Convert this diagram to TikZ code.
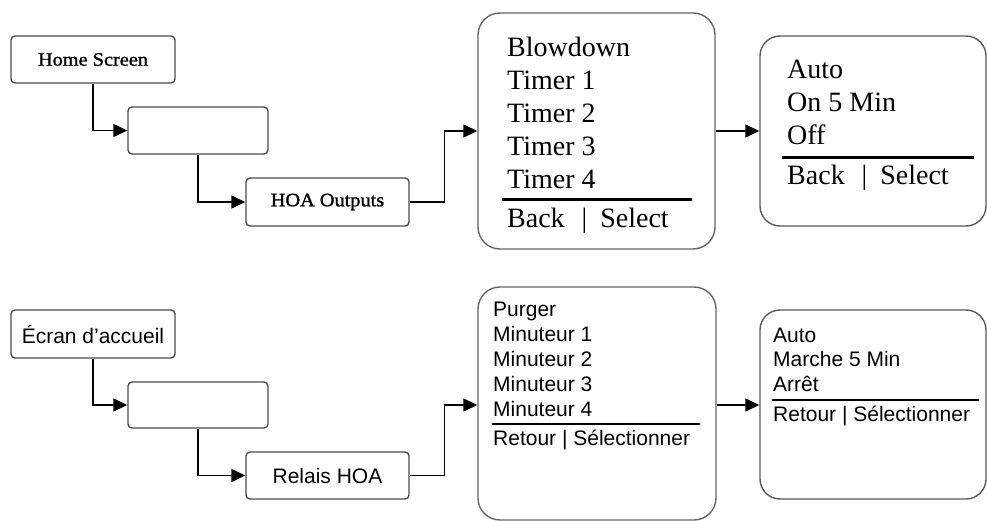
\documentclass[tikz,border=0pt]{standalone}
\usepackage{fontspec}
\setmainfont{Liberation Serif}
\newfontfamily\arialf{Liberation Sans}
\newfontfamily\wideserif[FakeStretch=1.07,FakeBold=1.2]{Liberation Serif}
\usetikzlibrary{arrows.meta}
\begin{document}
\begin{tikzpicture}[x=1pt,y=-1pt,
  smallbox/.style={draw=black!70, line width=1.4pt, rounded corners=4pt, inner sep=0pt, minimum width=164pt, minimum height=47pt},
  emptybox/.style={smallbox, minimum width=140pt},
  bigbox/.style={draw=black!60, line width=1.4pt, rounded corners=22pt, inner sep=0pt},
  conn/.style={line width=1.4pt, -{Triangle[length=14pt,width=13pt]}},
  ser/.style={font=\fontsize{28}{33}\selectfont, inner sep=0pt, anchor=base west},
  sans/.style={font=\arialf\fontsize{21}{25}\selectfont, inner sep=0pt, anchor=base west},
  smallser/.style={font=\wideserif\fontsize{19}{20}\selectfont},
  smallsans/.style={font=\arialf\fontsize{21}{24}\selectfont},
  rulethick/.style={line width=3pt},
  rulethin/.style={line width=2pt}]
\useasboundingbox (0,0) rectangle (987,521);

% ---------- top (English) ----------
\node[smallbox, smallser] (hs) at (93,59.5) {Home Screen\hspace{6pt}};
\node[emptybox] (e1) at (198,130.5) {};
\node[smallbox, minimum width=163pt, minimum height=48pt, smallser] (hoa) at (327.5,202) {HOA Outputs\hspace{8pt}};
\node[bigbox, minimum width=237pt, minimum height=236pt] (big1) at (596.5,131) {};
\node[smallbox, rounded corners=20pt, draw=black!65, minimum width=226pt, minimum height=190pt] (sm1) at (873,131) {};

\foreach \t [count=\i] in {Blowdown, Timer 1, Timer 2, Timer 3, Timer 4}
  \node[ser] (ta\i) at (507,{56.7+33*(\i-1)}) {\t};
\draw[rulethick] (502,200) -- (692,200);
\node[ser] (tab) at (507,228) {Back\hspace{17pt}|\hspace{13pt}Select};

\foreach \t/\yy [count=\i] in {Auto/78.5, On 5 Min/112, Off/145}
  \node[ser] (tb\i) at (787,\yy) {\t};
\draw[rulethick] (782,158) -- (974,158);
\node[ser] (tbb) at (787,185) {Back\hspace{17pt}|\hspace{13pt}Select};

\draw[conn] (hs.south) |- (e1.west);
\draw[conn] (e1.south) |- (hoa.west);
\draw[conn] (hoa.east) -- ++(35,0) |- (big1.west);
\draw[conn] (big1.east) -- (sm1.west);

% ---------- bottom (French) ----------
\node[smallbox, minimum height=48pt, smallsans] (ec) at (93,334) {Écran d’accueil\hspace{3pt}};
\node[emptybox, minimum height=46pt] (e2) at (198,405) {};
\node[smallbox, minimum width=163pt, smallsans] (rel) at (327.5,475.5) {Relais HOA\hspace{4pt}};
\node[bigbox, minimum width=238pt, minimum height=233pt] (big2) at (597,403.5) {};
\node[smallbox, rounded corners=20pt, draw=black!65, minimum width=226pt, minimum height=189pt] (sm2) at (873,404.5) {};

\foreach \t [count=\i] in {Purger, Minuteur 1, Minuteur 2, Minuteur 3, Minuteur 4}
  \node[sans] (tc\i) at (493,{316.7+25*(\i-1)}) {\t};
\draw[rulethin] (492,424) -- (700,424);
\node[sans] (tcb) at (493,445) {Retour | Sélectionner};

\foreach \t/\yy [count=\i] in {Auto/342.7, Marche 5 Min/366.7, Arrêt/391.5}
  \node[sans] (td\i) at (773,\yy) {\t};
\draw[rulethin] (772,400) -- (979,400);
\node[sans] (tdb) at (773,421) {Retour | Sélectionner};

\draw[conn] (ec.south) |- (e2.west);
\draw[conn] (e2.south) |- (rel.west);
\draw[conn] (rel.east) -- ++(35,0) |- (big2.west |- e2.west);
\draw[conn] (big2.east |- e2.west) -- (sm2.west |- e2.west);
\end{tikzpicture}
\end{document}
